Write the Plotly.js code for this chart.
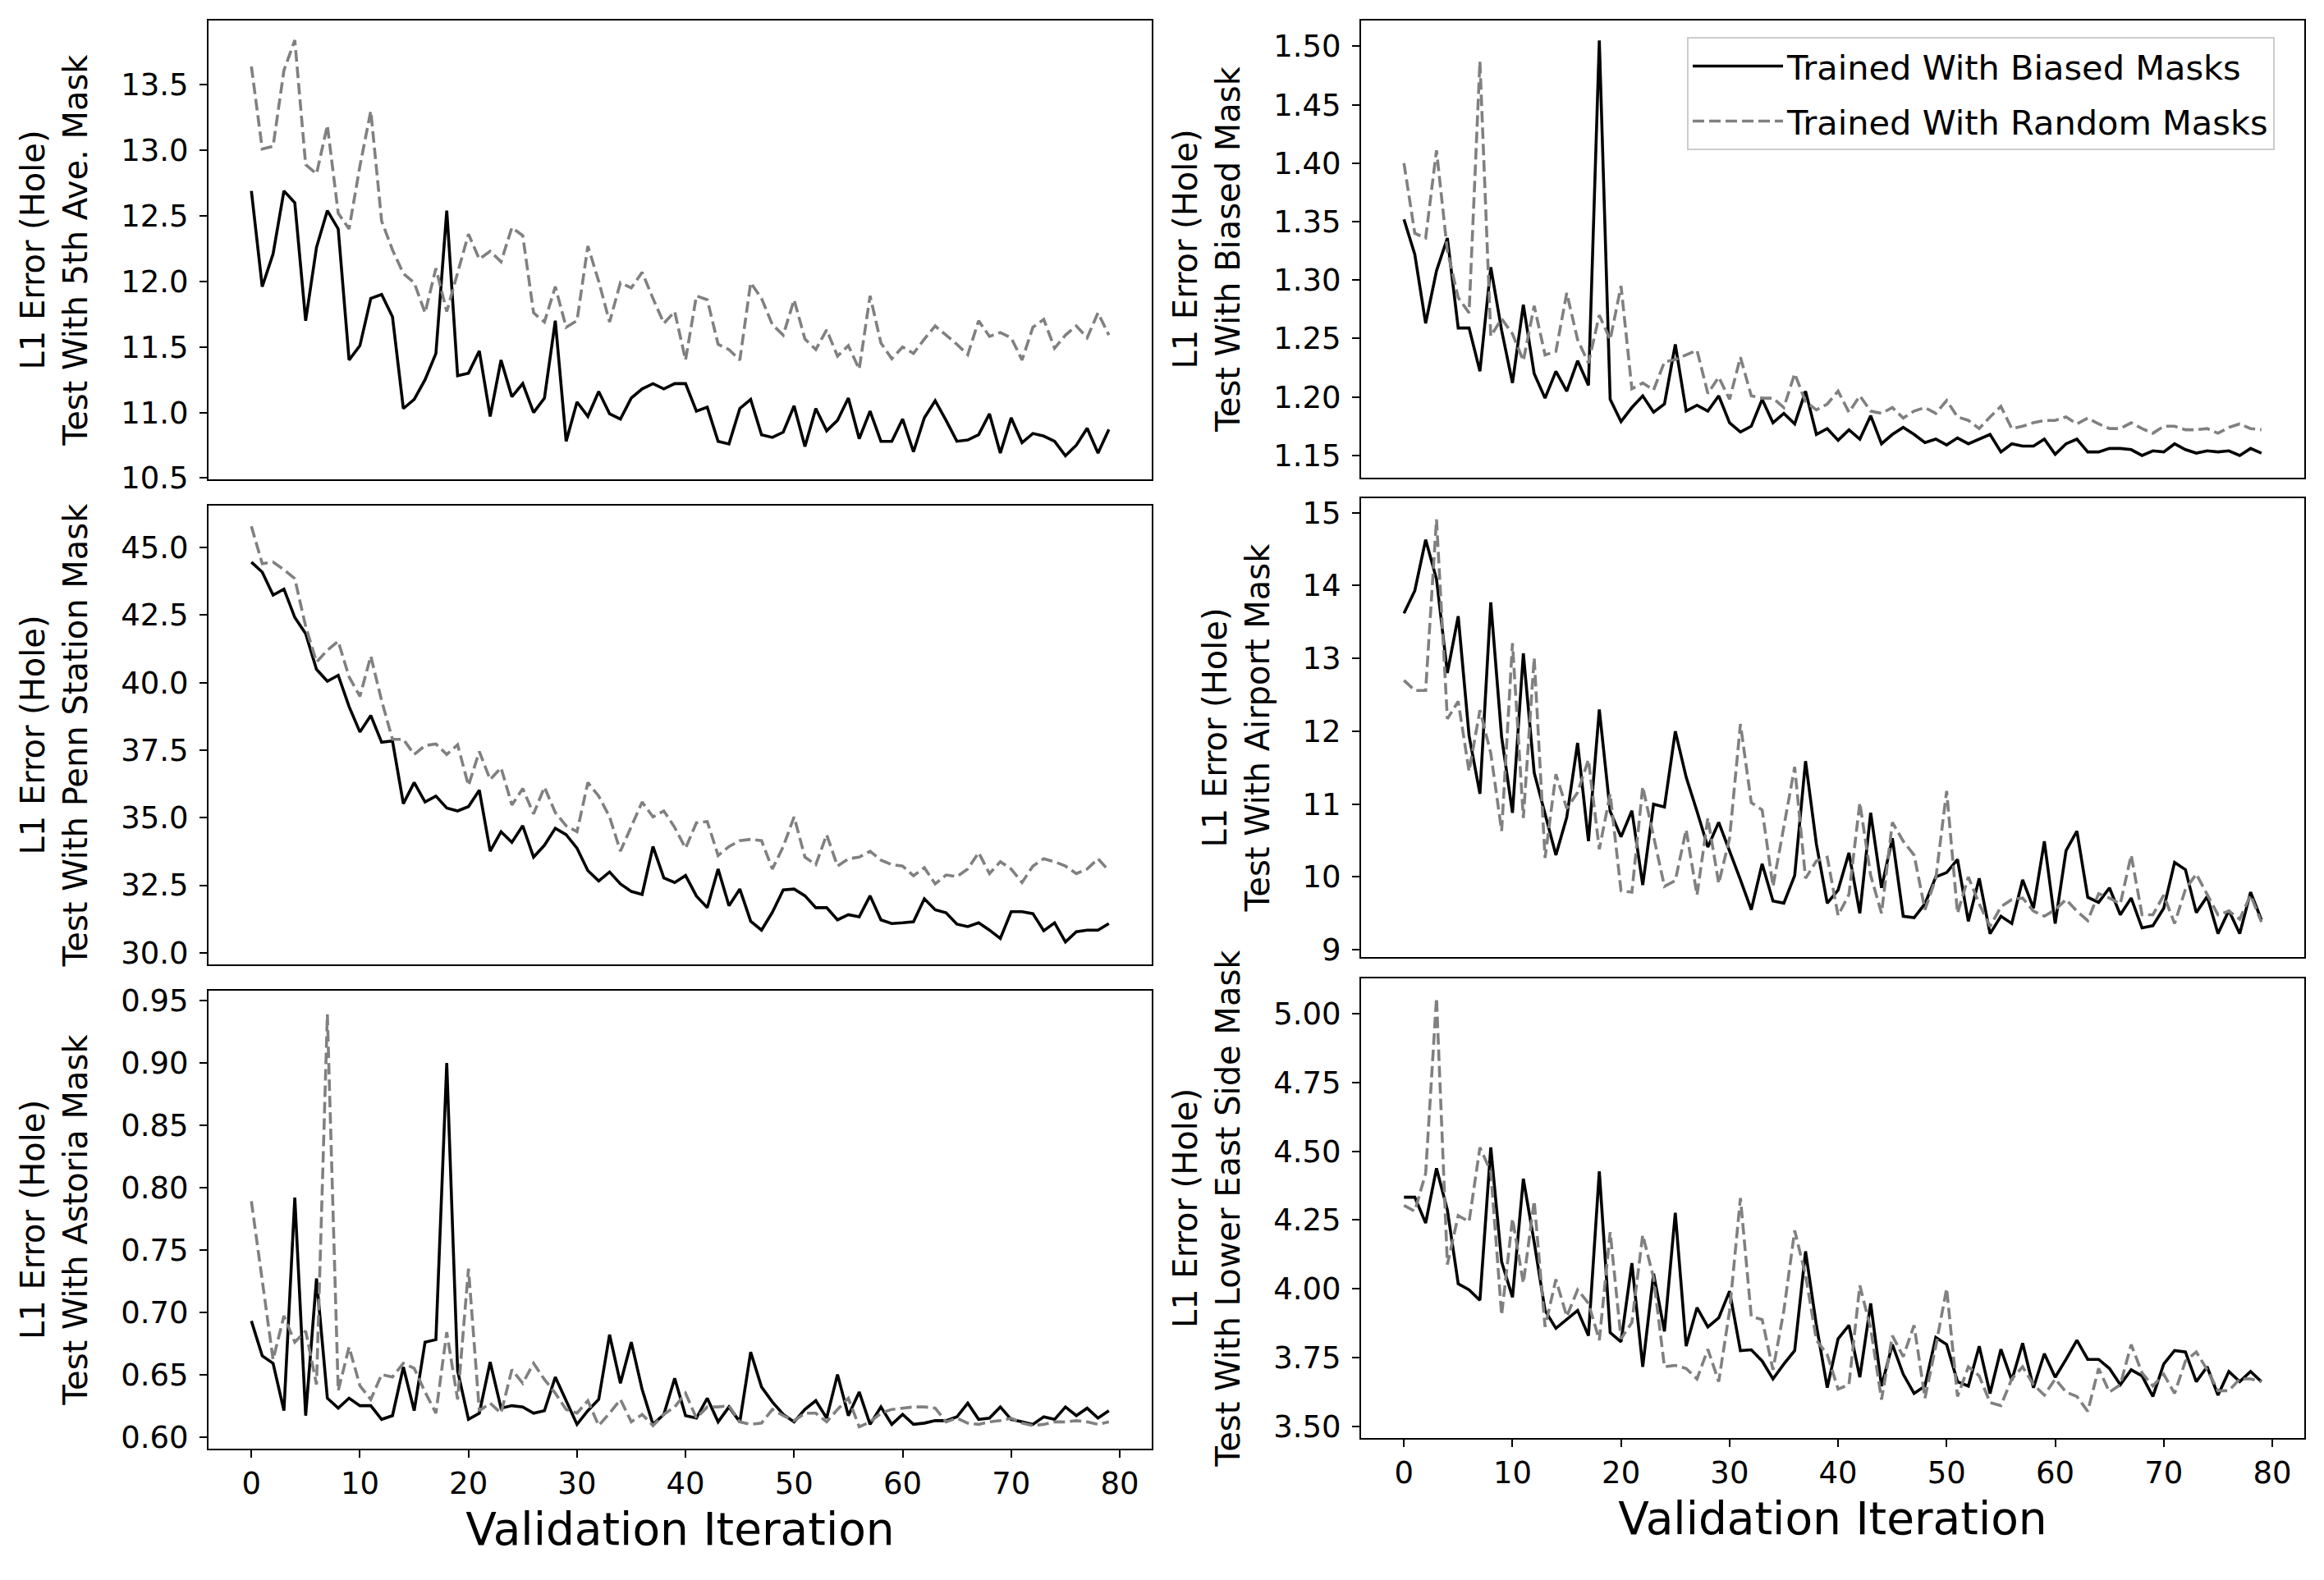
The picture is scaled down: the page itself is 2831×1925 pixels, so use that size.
<!DOCTYPE html>
<html><head><meta charset="utf-8">
<script src="https://cdn.plot.ly/plotly-3.0.1.min.js"></script>
<style>html,body{margin:0;padding:0;background:#fff;} #chart{width:2831px;height:1925px;}</style>
</head><body><div id="chart"></div>
<script>
// ---------- DATA ----------
const iteration = [0,1,2,3,4,5,6,7,8,9,10,11,12,13,14,15,16,17,18,19,20,21,22,23,24,25,26,27,28,29,30,31,32,33,34,35,36,37,38,39,40,41,42,43,44,45,46,47,48,49,50,51,52,53,54,55,56,57,58,59,60,61,62,63,64,65,66,67,68,69,70,71,72,73,74,75,76,77,78,79];
const xTickVals = [0,10,20,30,40,50,60,70,80];

const seriesNames = ['Trained With Biased Masks', 'Trained With Random Masks'];

// Test With 5th Ave. Mask
const fifthAveBiased = [12.69,11.96,12.21,12.69,12.60,11.70,12.26,12.54,12.40,11.40,11.51,11.87,11.90,11.73,11.03,11.10,11.25,11.45,12.54,11.28,11.30,11.47,10.97,11.40,11.12,11.22,11.00,11.11,11.70,10.78,11.08,10.97,11.16,10.99,10.95,11.11,11.18,11.22,11.18,11.22,11.22,11.01,11.04,10.78,10.76,11.03,11.10,10.83,10.81,10.85,11.05,10.74,11.03,10.86,10.94,11.11,10.80,11.01,10.78,10.78,10.95,10.70,10.96,11.09,10.94,10.78,10.79,10.83,10.99,10.69,10.96,10.77,10.84,10.82,10.78,10.67,10.75,10.88,10.69,10.87];
const fifthAveRandom = [13.64,13.01,13.03,13.61,13.84,12.89,12.82,13.19,12.52,12.40,12.88,13.30,12.46,12.24,12.06,11.99,11.76,12.10,11.77,12.06,12.36,12.17,12.23,12.15,12.41,12.35,11.76,11.69,11.96,11.65,11.70,12.27,12.00,11.69,11.99,11.95,12.07,11.87,11.68,11.77,11.40,11.89,11.86,11.52,11.48,11.40,11.99,11.87,11.67,11.59,11.86,11.56,11.48,11.63,11.43,11.51,11.33,11.89,11.53,11.41,11.50,11.45,11.56,11.66,11.59,11.52,11.44,11.70,11.58,11.61,11.57,11.40,11.65,11.71,11.49,11.59,11.66,11.57,11.76,11.59];

// Test With Biased Mask
const biasedMaskBiased = [1.352,1.322,1.263,1.308,1.336,1.259,1.259,1.222,1.311,1.257,1.212,1.279,1.220,1.199,1.222,1.205,1.231,1.210,1.505,1.198,1.179,1.191,1.201,1.187,1.194,1.245,1.188,1.193,1.188,1.201,1.178,1.170,1.175,1.198,1.178,1.186,1.177,1.205,1.168,1.173,1.163,1.172,1.164,1.184,1.160,1.168,1.174,1.168,1.161,1.164,1.159,1.165,1.160,1.164,1.168,1.153,1.160,1.158,1.158,1.164,1.151,1.160,1.164,1.153,1.153,1.156,1.156,1.155,1.150,1.154,1.153,1.160,1.155,1.152,1.154,1.153,1.154,1.150,1.156,1.152];
const biasedMaskRandom = [1.400,1.340,1.336,1.411,1.325,1.285,1.272,1.487,1.252,1.267,1.254,1.231,1.278,1.236,1.239,1.289,1.249,1.229,1.270,1.249,1.295,1.207,1.212,1.206,1.230,1.232,1.236,1.240,1.203,1.217,1.198,1.234,1.201,1.199,1.199,1.191,1.220,1.196,1.189,1.194,1.205,1.187,1.201,1.188,1.186,1.191,1.182,1.188,1.191,1.186,1.197,1.183,1.180,1.173,1.183,1.192,1.173,1.175,1.178,1.180,1.180,1.183,1.177,1.182,1.177,1.173,1.173,1.178,1.173,1.169,1.175,1.175,1.172,1.172,1.173,1.169,1.174,1.177,1.173,1.172];

// Test With Penn Station Mask
const pennBiased = [44.46,44.09,43.24,43.46,42.41,41.81,40.49,40.05,40.27,39.11,38.17,38.78,37.79,37.84,35.52,36.30,35.58,35.80,35.36,35.25,35.41,36.02,33.76,34.48,34.09,34.70,33.54,33.98,34.61,34.37,33.87,33.04,32.66,32.99,32.55,32.27,32.16,33.93,32.77,32.60,32.86,32.10,31.67,33.10,31.74,32.36,31.17,30.84,31.50,32.33,32.36,32.11,31.67,31.67,31.22,31.41,31.33,32.11,31.22,31.08,31.11,31.15,32.00,31.59,31.48,31.06,30.97,31.11,30.84,30.53,31.52,31.52,31.45,30.82,31.11,30.40,30.78,30.84,30.84,31.08];
const pennRandom = [45.78,44.40,44.46,44.18,43.85,42.08,40.76,41.20,41.53,40.21,39.49,40.98,39.33,37.90,37.90,37.34,37.67,37.73,37.34,37.70,36.19,37.45,36.41,36.85,35.47,36.08,35.14,36.13,35.19,34.70,34.48,36.30,35.80,35.03,33.76,34.70,35.58,35.03,35.25,34.64,33.87,34.81,34.86,33.60,33.93,34.15,34.20,34.15,33.10,33.93,35.03,33.54,33.26,34.37,33.21,33.48,33.54,33.76,33.43,33.26,33.21,32.85,33.15,32.55,32.88,32.82,33.10,33.71,32.93,33.37,33.10,32.60,33.21,33.48,33.37,33.21,32.93,33.10,33.48,33.04];

// Test With Airport Mask
const airportBiased = [13.62,13.93,14.63,14.09,12.80,13.58,11.94,11.14,13.77,11.92,10.88,13.07,11.43,10.86,10.30,10.82,11.84,10.49,12.30,10.90,10.55,10.91,9.89,11.00,10.96,12.00,11.37,10.90,10.41,10.75,10.36,9.96,9.55,10.18,9.67,9.64,10.02,11.59,10.45,9.64,9.82,10.33,9.50,10.88,9.85,10.53,9.46,9.44,9.63,10.00,10.06,10.24,9.39,9.98,9.22,9.46,9.36,9.96,9.57,10.49,9.36,10.36,10.63,9.72,9.65,9.85,9.48,9.71,9.30,9.33,9.57,10.20,10.10,9.51,9.73,9.22,9.54,9.22,9.79,9.41];
const airportRandom = [12.70,12.56,12.56,14.91,12.17,12.41,11.45,12.29,11.70,10.63,13.21,10.81,13.01,10.26,11.41,10.94,11.16,11.61,10.38,11.14,9.81,9.79,11.24,10.57,9.87,9.95,10.65,9.75,10.81,9.91,10.53,12.10,11.02,10.92,9.87,10.69,11.51,9.98,10.22,10.27,9.47,9.76,11.02,10.02,9.50,10.75,10.49,10.30,9.55,9.98,11.18,9.50,10.00,9.63,9.32,9.59,9.69,9.71,9.53,9.46,9.55,9.69,9.53,9.40,9.77,9.71,9.63,10.30,9.48,9.48,9.75,9.36,9.83,10.04,9.75,9.48,9.53,9.42,9.75,9.38];

// Test With Astoria Mask
const astoriaBiased = [0.693,0.665,0.659,0.621,0.792,0.617,0.727,0.631,0.623,0.631,0.625,0.625,0.614,0.617,0.656,0.621,0.676,0.678,0.900,0.653,0.614,0.619,0.660,0.623,0.625,0.624,0.619,0.621,0.648,0.629,0.610,0.621,0.630,0.682,0.643,0.676,0.638,0.610,0.618,0.647,0.617,0.615,0.631,0.612,0.624,0.612,0.668,0.640,0.628,0.618,0.612,0.622,0.629,0.615,0.650,0.617,0.636,0.610,0.624,0.610,0.618,0.610,0.611,0.613,0.613,0.616,0.627,0.614,0.615,0.624,0.614,0.612,0.610,0.616,0.614,0.624,0.617,0.623,0.615,0.621];
const astoriaRandom = [0.789,0.724,0.662,0.697,0.676,0.685,0.642,0.939,0.637,0.672,0.641,0.630,0.650,0.648,0.659,0.655,0.636,0.619,0.684,0.630,0.735,0.621,0.627,0.619,0.654,0.643,0.659,0.646,0.635,0.622,0.619,0.629,0.609,0.619,0.630,0.612,0.618,0.609,0.618,0.624,0.635,0.615,0.624,0.624,0.625,0.612,0.610,0.611,0.622,0.617,0.613,0.619,0.619,0.612,0.622,0.631,0.608,0.612,0.619,0.622,0.623,0.624,0.624,0.623,0.612,0.615,0.611,0.610,0.612,0.613,0.615,0.611,0.609,0.610,0.612,0.612,0.613,0.612,0.610,0.612];

// Test With Lower East Side Mask
const lowerEastBiased = [4.333,4.333,4.239,4.438,4.287,4.018,3.996,3.958,4.514,4.098,3.969,4.400,4.169,3.921,3.856,3.888,3.921,3.829,4.427,3.840,3.807,4.093,3.716,4.055,3.845,4.276,3.791,3.931,3.861,3.894,3.991,3.775,3.778,3.737,3.672,3.726,3.775,4.136,3.867,3.640,3.818,3.867,3.678,3.947,3.646,3.797,3.689,3.619,3.646,3.823,3.797,3.662,3.646,3.791,3.619,3.780,3.667,3.802,3.640,3.764,3.678,3.743,3.813,3.743,3.743,3.710,3.651,3.705,3.683,3.608,3.726,3.775,3.770,3.662,3.716,3.613,3.699,3.662,3.699,3.662];
const lowerEastRandom = [4.303,4.282,4.420,5.058,4.088,4.266,4.244,4.514,4.427,3.904,4.255,4.020,4.320,3.861,4.034,3.899,3.996,3.947,3.813,4.206,3.818,3.877,4.196,4.039,3.716,3.721,3.710,3.672,3.780,3.662,3.920,4.330,3.899,3.888,3.705,3.920,4.212,4.050,3.813,3.760,3.635,3.651,4.012,3.856,3.597,3.829,3.753,3.867,3.602,3.791,4.001,3.608,3.716,3.683,3.586,3.575,3.672,3.716,3.651,3.613,3.672,3.624,3.608,3.554,3.710,3.624,3.651,3.797,3.694,3.646,3.689,3.619,3.737,3.770,3.705,3.629,3.629,3.672,3.672,3.662];

const panelTitles = ['Test With 5th Ave. Mask','Test With Biased Mask','Test With Penn Station Mask','Test With Airport Mask','Test With Astoria Mask','Test With Lower East Side Mask'];
const yLabelTop = 'L1 Error (Hole)';
const xLabel = 'Validation Iteration';

// ---------- LAYOUT / STYLE ----------
const W = 2831, H = 1925;
const FONT = 'DejaVu Sans, sans-serif';
const panels = [
  {b: fifthAveBiased, r: fifthAveRandom, px:[254,1403], py:[25,584], range:[10.49,13.99], tick0:10.5, dtick:0.5, fmt:'.1f', bottom:false},
  {b: biasedMaskBiased, r: biasedMaskRandom, px:[1658,2807], py:[25,582], range:[1.131,1.522], tick0:1.15, dtick:0.05, fmt:'.2f', bottom:false, legend:true},
  {b: pennBiased, r: pennRandom, px:[254,1403], py:[616,1175], range:[29.57,46.55], tick0:30, dtick:2.5, fmt:'.1f', bottom:false},
  {b: airportBiased, r: airportRandom, px:[1658,2807], py:[607,1166], range:[8.90,15.20], tick0:9, dtick:1, fmt:'d', bottom:false},
  {b: astoriaBiased, r: astoriaRandom, px:[254,1403], py:[1207,1765], range:[0.5905,0.958], tick0:0.6, dtick:0.05, fmt:'.2f', bottom:true},
  {b: lowerEastBiased, r: lowerEastRandom, px:[1658,2807], py:[1192,1752], range:[3.457,5.129], tick0:3.5, dtick:0.25, fmt:'.2f', bottom:true},
];

const traces = [];
const layout = {
  width: W, height: H,
  margin: {l:0, r:0, t:0, b:0},
  paper_bgcolor: '#ffffff', plot_bgcolor: '#ffffff',
  font: {family: FONT, color: '#000000', size: 37},
  showlegend: true,
  legend: {
    x: 2055/W, y: 1 - 45/H, xanchor: 'left', yanchor: 'top',
    bgcolor: 'rgba(255,255,255,0.8)', bordercolor: '#cccccc', borderwidth: 2,
    font: {family: FONT, size: 41.5, color: '#000000'},
    itemwidth: 110, tracegroupgap: 10
  }
};

panels.forEach((p, i) => {
  const n = i + 1;
  const xa = 'x' + (n === 1 ? '' : n);
  const ya = 'y' + (n === 1 ? '' : n);
  traces.push({
    x: iteration, y: p.b, xaxis: xa, yaxis: ya, type: 'scatter', mode: 'lines',
    name: seriesNames[0], legendgroup: 'biased', showlegend: !!p.legend,
    line: {color: '#000000', width: 3.6}, hoverinfo: 'skip'
  });
  traces.push({
    x: iteration, y: p.r, xaxis: xa, yaxis: ya, type: 'scatter', mode: 'lines',
    name: seriesNames[1], legendgroup: 'random', showlegend: !!p.legend,
    line: {color: '#808080', width: 3.6, dash: '14px,6px'}, hoverinfo: 'skip'
  });
  const xKey = 'xaxis' + (n === 1 ? '' : n);
  const yKey = 'yaxis' + (n === 1 ? '' : n);
  layout[xKey] = {
    domain: [p.px[0]/W, p.px[1]/W], anchor: ya,
    range: [-3.95, 82.95], showgrid: false, zeroline: false,
    showline: true, mirror: true, linecolor: '#000000', linewidth: 2,
    ticks: p.bottom ? 'outside' : '', ticklen: 9, tickwidth: 2, tickcolor: '#000000',
    tickmode: 'array', tickvals: xTickVals, ticktext: xTickVals.map(String),
    showticklabels: p.bottom,
    tickfont: {family: FONT, size: 37, color: '#000000'},
    ticklabelstandoff: 0,
    title: p.bottom ? {text: xLabel, font: {family: FONT, size: 55, color: '#000000'}, standoff: 15} : {text: ''}
  };
  layout[yKey] = {
    domain: [1 - p.py[1]/H, 1 - p.py[0]/H], anchor: xa,
    range: p.range, showgrid: false, zeroline: false,
    showline: true, mirror: true, linecolor: '#000000', linewidth: 2,
    ticks: 'outside', ticklen: 9, tickwidth: 2, tickcolor: '#000000',
    tickmode: 'linear', tick0: p.tick0, dtick: p.dtick, tickformat: p.fmt,
    tickfont: {family: FONT, size: 37, color: '#000000'},
    ticklabelstandoff: 6,
    title: {text: yLabelTop + '<br>' + panelTitles[i], font: {family: FONT, size: 40, color: '#000000'}, standoff: 28}
  };
});

Plotly.newPlot('chart', traces, layout, {staticPlot: true, displayModeBar: false});
</script>
</body></html>
